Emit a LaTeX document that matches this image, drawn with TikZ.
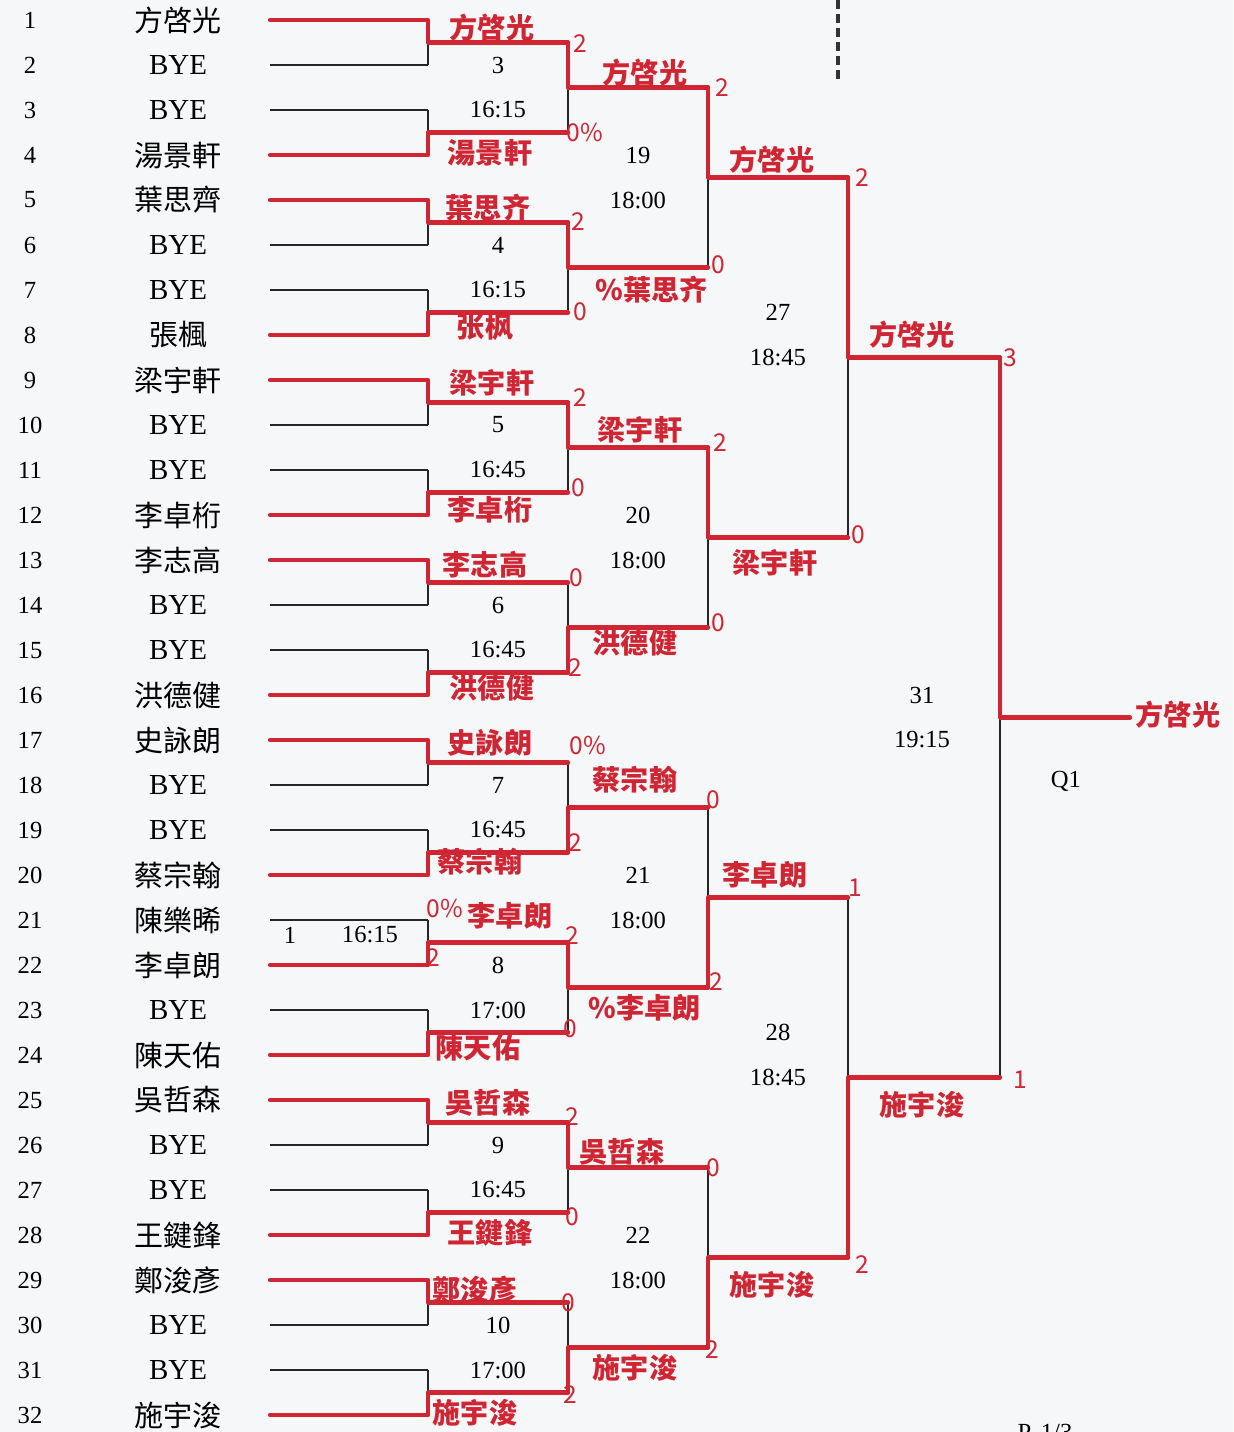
\documentclass[tikz,border=0pt]{standalone}
\usepackage{fontspec}
\setmainfont{Liberation Serif}
\newfontfamily\cjk{Noto Sans CJK TC}
\usetikzlibrary{positioning}

\definecolor{pen}{RGB}{208,38,52}
\definecolor{paper}{RGB}{246,247,248}

\begin{document}
\begin{tikzpicture}[
    x=0.02cm, y=-0.02cm,
    rule/.style={draw=black!85, line width=0.6pt},
    win/.style={draw=pen, line width=2.4pt, line cap=round, line join=round},
    cutline/.style={draw=black!80, line width=2.2pt, dash pattern=on 5pt off 3pt},
    rowno/.style={font=\fontsize{14}{14}\selectfont},
    player/.style={font=\fontsize{16.5}{17}\selectfont},
    matchlbl/.style={font=\fontsize{14}{14}\selectfont},
    hand/.style={text=pen, font=\fontsize{16}{16}\cjk\bfseries, inner sep=0pt},
    score/.style={text=pen, font=\fontsize{14}{14}\cjk, inner sep=0pt}
]
\useasboundingbox (0,0) rectangle (1233,1432);
\clip (0,0) rectangle (1233,1432);
\fill[paper] (0,0) rectangle (1233,1432);

% draw players
\foreach \i/\n in {1/{\cjk 方啓光},2/BYE,3/BYE,4/{\cjk 湯景軒},5/{\cjk 葉思齊},6/BYE,7/BYE,8/{\cjk 張楓},
    9/{\cjk 梁宇軒},10/BYE,11/BYE,12/{\cjk 李卓桁},13/{\cjk 李志高},14/BYE,15/BYE,16/{\cjk 洪德健},
    17/{\cjk 史詠朗},18/BYE,19/BYE,20/{\cjk 蔡宗翰},21/{\cjk 陳樂晞},22/{\cjk 李卓朗},23/BYE,24/{\cjk 陳天佑},
    25/{\cjk 吳哲森},26/BYE,27/BYE,28/{\cjk 王鍵鋒},29/{\cjk 鄭浚彥},30/BYE,31/BYE,32/{\cjk 施宇浚}} {
  \node[rowno] (no\i) at (30,20+45*\i-45) {\i};
  \node[player] (pl\i) at (178,20+45*\i-45) {\n};
  \coordinate (s\i) at (270,20+45*\i-45);
  \coordinate (e\i) at (428,20+45*\i-45);
  \draw[rule] (s\i) -- (e\i);
}

% bracket
\foreach \k in {1,...,16} {
  \pgfmathtruncatemacro\up{2*\k-1}
  \pgfmathtruncatemacro\dn{2*\k}
  \coordinate (m\k) at (428,42.5+90*\k-90);
  \coordinate (a\k) at (568,42.5+90*\k-90);
  \draw[rule] (e\up) -- (e\dn) (m\k) -- (a\k);
}
\foreach \j in {1,...,8} {
  \pgfmathtruncatemacro\up{2*\j-1}
  \pgfmathtruncatemacro\dn{2*\j}
  \coordinate (b\j) at (568,87.5+180*\j-180);
  \coordinate (bb\j) at (708,87.5+180*\j-180);
  \draw[rule] (a\up) -- (a\dn) (b\j) -- (bb\j);
}
\foreach \j in {1,...,4} {
  \pgfmathtruncatemacro\up{2*\j-1}
  \pgfmathtruncatemacro\dn{2*\j}
  \coordinate (c\j) at (708,177.5+360*\j-360);
  \coordinate (cc\j) at (848,177.5+360*\j-360);
  \draw[rule] (bb\up) -- (bb\dn) (c\j) -- (cc\j);
}
\foreach \j in {1,2} {
  \pgfmathtruncatemacro\up{2*\j-1}
  \pgfmathtruncatemacro\dn{2*\j}
  \coordinate (d\j) at (848,357.5+720*\j-720);
  \coordinate (dd\j) at (1000,357.5+720*\j-720);
  \draw[rule] (cc\up) -- (cc\dn) (d\j) -- (dd\j);
}
\coordinate (f) at (1000,717.5);
\coordinate (champ) at (1130,717.5);
\draw[rule] (dd1) -- (dd2) (f) -- (champ);

% red pen
\foreach \i/\k in {1/1,4/2,5/3,8/4,9/5,12/6,13/7,16/8,17/9,20/10,22/11,24/12,25/13,28/14,29/15,32/16}
  \draw[win] (s\i) -- (e\i) -- (m\k) -- (a\k);
\foreach \k/\j in {1/1,3/2,5/3,8/4,10/5,11/6,13/7,16/8}
  \draw[win] (a\k) -- (b\j) -- (bb\j);
\foreach \j/\c in {1/1,3/2,6/3,8/4}
  \draw[win] (bb\j) -- (c\c) -- (cc\c);
\draw[win] (cc1) -- (d1) -- (dd1);
\draw[win] (cc4) -- (d2) -- (dd2);
\draw[win] (dd1) -- (f) -- (champ);

% match numbers and times
\foreach \m/\tm [count=\j] in {3/16:15,4/16:15,5/16:45,6/16:45,7/16:45,8/17:00,9/16:45,10/17:00} {
  \node[matchlbl] (mn\m) at (498,65+180*\j-180) {\m};
  \node[matchlbl] (mt\m) at (498,110+180*\j-180) {\tm};
}
\foreach \m [count=\j] in {19,...,22} {
  \node[matchlbl] (mn\m) at (638,155+360*\j-360) {\m};
  \node[matchlbl] (mt\m) at (638,200+360*\j-360) {18:00};
}
\node[matchlbl] (mn1) at (290,935) {1};
\node[matchlbl] (mt1) at (370,935) {16:15};
\node[matchlbl] (mn27) at (778,312.5) {27};
\node[matchlbl] (mt27) at (778,357.5) {18:45};
\node[matchlbl] (mn28) at (778,1032.5) {28};
\node[matchlbl] (mt28) at (778,1077.5) {18:45};
\node[matchlbl] (mn31) at (922,695) {31};
\node[matchlbl] (mt31) at (922,740) {19:15};
\node[matchlbl] (q1) at (1066,781) {Q1};

% handwritten names
\foreach \x/\y/\w [count=\n] in {492/28/方啓光,490/153/湯景軒,488/208/葉思齐,485/327/张枫,
    492/383/梁宇軒,490/510/李卓桁,485/565/李志高,492/688/洪德健,
    490/743/史詠朗,480/862/蔡宗翰,510/916/李卓朗,478/1048/陳天佑,
    488/1103/吳哲森,490/1233/王鍵鋒,475/1290/鄭浚彥,475/1413/施宇浚,
    645/73/方啓光,652/290/\%葉思齐,640/430/梁宇軒,635/643/洪德健,
    635/780/蔡宗翰,645/1008/\%李卓朗,622/1152/吳哲森,635/1368/施宇浚,
    772/160/方啓光,775/563/梁宇軒,765/875/李卓朗,772/1285/施宇浚,
    912/335/方啓光,922/1105/施宇浚,1178/715/方啓光}
  \node[hand] (hw\n) at (\x,\y) {\w};

% scores
\foreach \x/\y/\s [count=\n] in {580/44/2,585/132/0\%,578/222/2,580/312/0,
    580/398/2,578/488/0,576/578/0,575/668/2,
    588/745/0\%,575/843/2,572/936/2,570/1029/0,
    572/1117/2,572/1217/0,568/1303/0,570/1395/2,
    445/908/0\%,433/958/2,
    722/88/2,718/265/0,720/443/2,718/623/0,
    713/800/0,716/982/2,713/1168/0,712/1350/2,
    862/178/2,858/535/0,855/888/1,862/1265/2,
    1010/358/3,1020/1080/1}
  \node[score] (sc\n) at (\x,\y) {\s};

% cut mark and page number
\coordinate (cut1) at (838,0);
\coordinate (cut2) at (838,80);
\draw[cutline] (cut1) -- (cut2);
\node[rowno, anchor=north] (page) at (1045,1418) {P.\ 1/3};
\end{tikzpicture}
\end{document}
